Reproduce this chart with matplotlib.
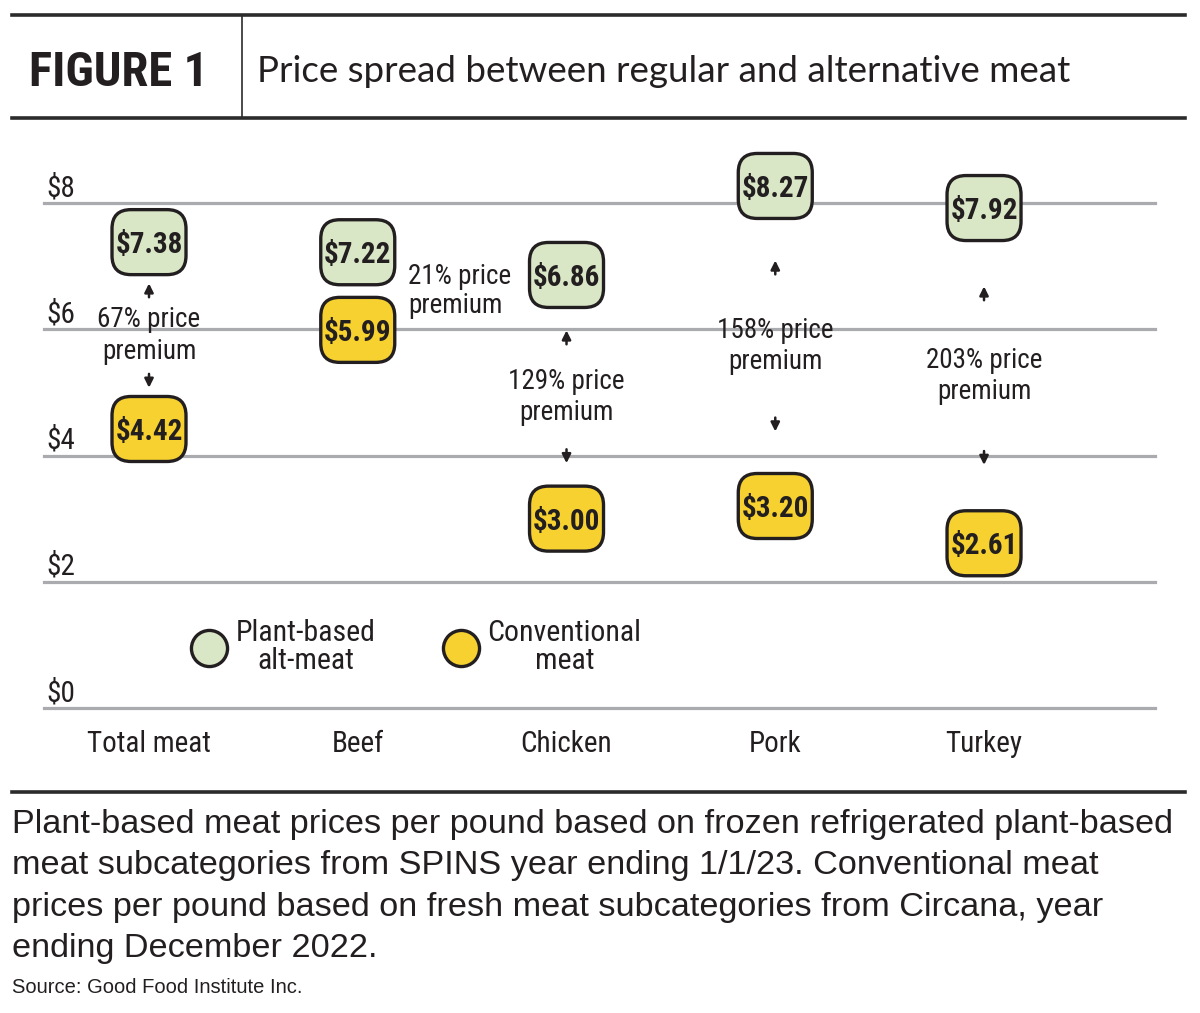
import matplotlib
matplotlib.use('Agg')
import matplotlib.pyplot as plt
from matplotlib import font_manager as fm
from matplotlib.patches import FancyBboxPatch
from matplotlib.transforms import ScaledTranslation
from matplotlib.lines import Line2D

# data
categories = ['Total meat', 'Beef', 'Chicken', 'Pork', 'Turkey']
alt_prices = [7.38, 7.22, 6.86, 8.27, 7.92]    # plant-based alt-meat, $/lb
conv_prices = [4.42, 5.99, 3.00, 3.20, 2.61]   # conventional meat, $/lb
y_ticks = [0, 2, 4, 6, 8]
legend_labels = ['Plant-based\nalt-meat', 'Conventional\nmeat']

fig_label = 'FIGURE 1'
title = 'Price spread between regular and alternative meat'
caption = ('Plant-based meat prices per pound based on frozen refrigerated plant-based\n'
           'meat subcategories from SPINS year ending 1/1/23. Conventional meat\n'
           'prices per pound based on fresh meat subcategories from Circana, year\n'
           'ending December 2022.')
source = 'Source: Good Food Institute Inc.'

GREEN = '#d9e7c6'
YELLOW = '#f6d12f'
INK = '#231f20'
GRID = '#a9abae'
RULE = '#2b2b2b'


def pick(names, default='DejaVu Sans'):
    for n in names:
        try:
            fm.findfont(fm.FontProperties(family=n), fallback_to_default=False)
            return n
        except ValueError:
            continue
    return default


narrow = pick(['Liberation Sans Narrow', 'Roboto Condensed', 'Arial Narrow'])
head_font = pick(['Lato', 'Roboto', 'Open Sans'])
body_font = pick(['Liberation Sans', 'Arial'])

W, H = 1200, 1013
fig = plt.figure(figsize=(W / 100, H / 100), dpi=100)


def fx(px):
    return px / W


def fy(py):
    return 1 - py / H


def rule(y, lw=2.6):
    fig.add_artist(Line2D([fx(12), fx(1185)], [fy(y), fy(y)], lw=lw, color=RULE))


# header
rule(15)
rule(118)
fig.add_artist(Line2D([fx(242), fx(242)], [fy(16), fy(117)], lw=1.2, color=RULE))
fig.text(fx(29), fy(68), fig_label, family=narrow, stretch='condensed', weight='bold',
         fontsize=35, color=INK, va='center_baseline', ha='left')
fig.text(fx(257), fy(68), title, family=head_font, fontsize=26.5, color=INK,
         va='center_baseline', ha='left')

# chart area: $0 line at 708px, 63.125px per dollar
unit = 63.125
ax = fig.add_axes([fx(44), fy(708), (1155 - 44) / W, 9 * unit / H])
ax.set_xlim(-0.503, 4.819)
ax.set_ylim(0, 9)
ax.axis('off')

for t in y_ticks:
    ax.axhline(t, color=GRID, lw=2.3, zorder=1, clip_on=False)
    ax.text(-0.494, t + 0.11, '$%d' % t, family=narrow, stretch='condensed',
            fontsize=21, color=INK, va='baseline', ha='left')

x = list(range(len(categories)))
for xi, name in zip(x, categories):
    ax.text(xi, -0.52, name, family=narrow, stretch='condensed', fontsize=21,
            color=INK, ha='center', va='center_baseline', clip_on=False)

box_w, box_h = 0.74, 0.65   # inches
half_h = (box_h / 2 * 100 + 2) / unit   # box half-height in dollars


def price_box(xv, yv, color):
    trans = fig.dpi_scale_trans + ScaledTranslation(xv, yv, ax.transData)
    p = FancyBboxPatch((-box_w / 2, -box_h / 2), box_w, box_h,
                       boxstyle='round,pad=0,rounding_size=0.19',
                       transform=trans, fc=color, ec=INK, lw=2.4,
                       zorder=3, clip_on=False)
    ax.add_artist(p)
    ax.text(xv, yv, '$%.2f' % yv, family=narrow, stretch='condensed', weight='bold',
            fontsize=21, color=INK, ha='center', va='center_baseline', zorder=4)


def arrow(xv, yv, up):
    ln = 0.11
    tail, tip = (yv - ln, yv + ln) if up else (yv + ln, yv - ln)
    ax.annotate('', xy=(xv, tip), xytext=(xv, tail),
                arrowprops=dict(arrowstyle='-|>', color=INK, lw=1.8,
                                mutation_scale=13, shrinkA=0, shrinkB=0))


text_half = 0.5   # half height of the two-line premium label, dollars
for xi, a, c in zip(x, alt_prices, conv_prices):
    price_box(xi, a, GREEN)
    price_box(xi, c, YELLOW)
    pct = round((a / c - 1) * 100)
    label = '%d%% price\npremium' % pct
    lo, hi = c + half_h, a - half_h
    mid = (lo + hi) / 2
    if hi - lo > 2 * text_half + 0.2:
        ax.text(xi, mid, label, family=narrow, stretch='condensed', fontsize=19.5,
                color=INK, ha='center', va='center', linespacing=1.2, zorder=2)
        arrow(xi, (hi + mid + text_half) / 2, True)
        arrow(xi, (lo + mid - text_half) / 2, False)
    else:
        # boxes too close: put the label beside them
        ax.text(xi + 0.24, (a + c) / 2, label, family=narrow, stretch='condensed',
                fontsize=19.5, color=INK, ha='left', va='center', linespacing=1.1)

handles = [Line2D([], [], marker='o', ls='', ms=26, mfc=col, mec=INK, mew=2.4)
           for col in (GREEN, YELLOW)]
leg = ax.legend(handles, legend_labels, loc='center left',
                bbox_to_anchor=(fx(176), fy(647)), bbox_transform=fig.transFigure,
                ncol=2, frameon=False, borderpad=0, handlelength=1.2,
                handletextpad=0.3, columnspacing=2.25,
                prop=dict(family=narrow, stretch='condensed', size=21.5))
for t in leg.get_texts():
    t.set_multialignment('center')
    t.set_linespacing(1.0)
    t.set_color(INK)

# footer
rule(792)
fig.text(fx(12), fy(809), caption, family=body_font, fontsize=24.7, color=INK,
         va='top', ha='left', linespacing=1.43)
fig.text(fx(12), fy(987), source, family=body_font, fontsize=14.5, color=INK,
         va='center', ha='left')

fig.savefig('out.png', dpi=100, facecolor='white')
